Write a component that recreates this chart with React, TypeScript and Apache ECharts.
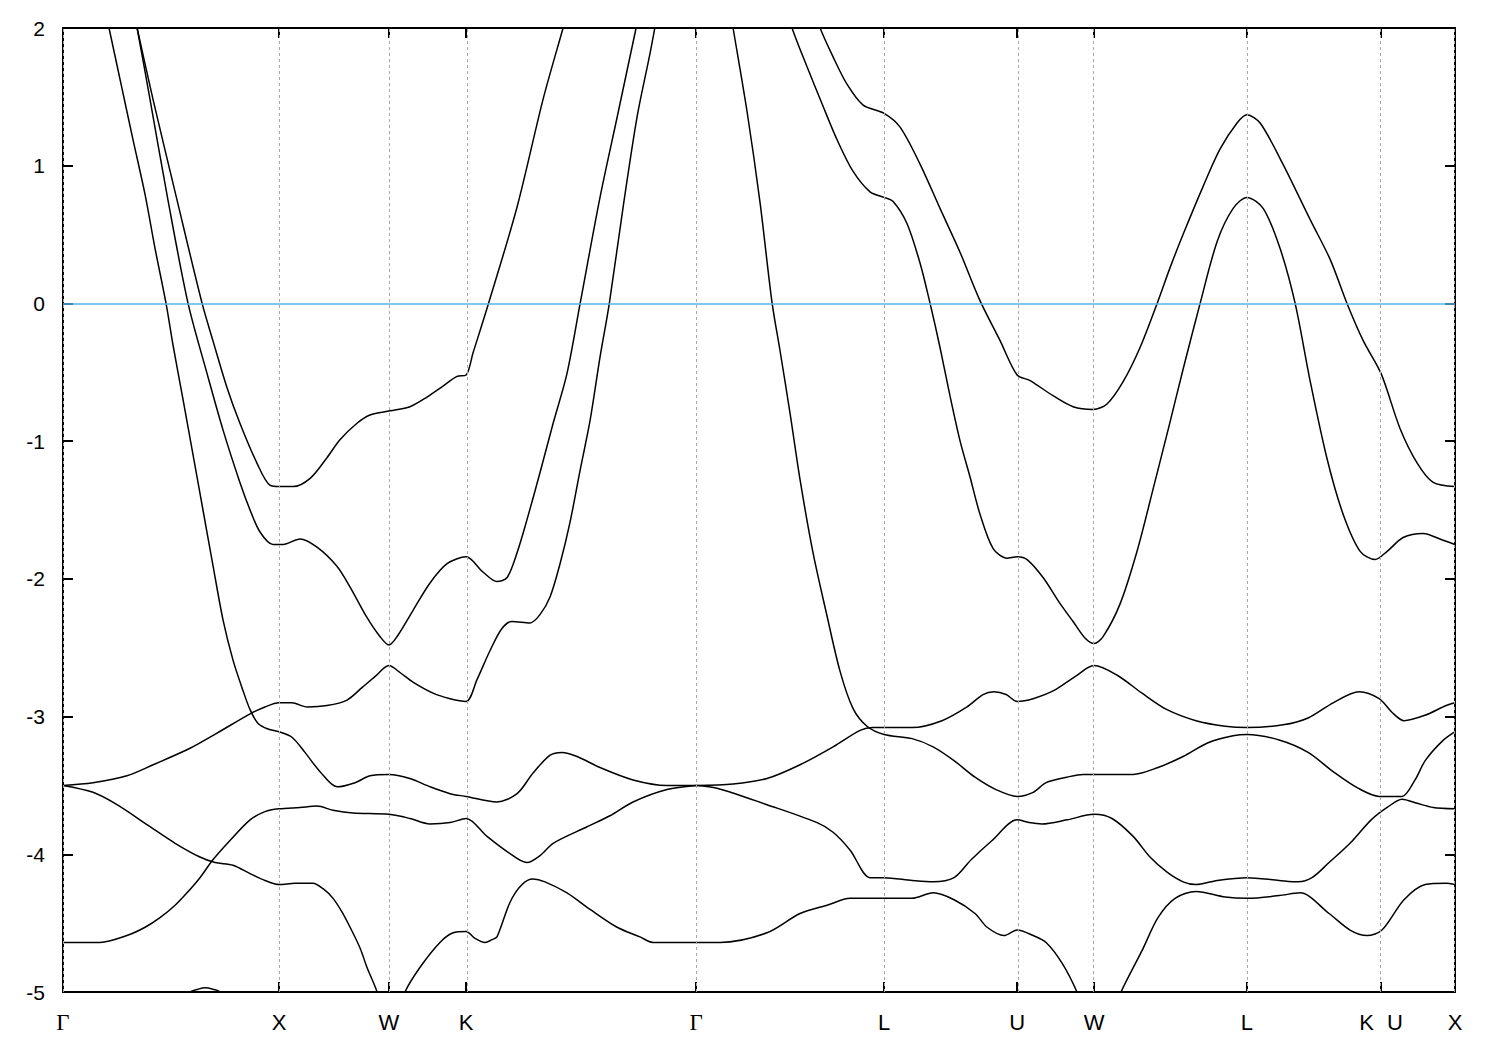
import React, { useEffect, useRef } from "react";
import * as echarts from "echarts";

// high-symmetry points along the k-path (path length, Γ–X = 1)
const tickPos = [0, 1, 1.509, 1.866, 2.931, 3.801, 4.417, 4.773, 5.481, 6.102, 6.444];
const tickLabels = ["Γ", "X", "W", "K", "Γ", "L", "U", "W", "L", "K|U", "X"];
const kMax = 6.444;
const eMin = -5;
const eMax = 2;
const eStep = 1;
const fermiLevel = 0;

// bands: [k, E (eV)]
const band1 = [[0.194, 2.13], [0.213, 2.0], [0.269, 1.59], [0.324, 1.19], [0.38, 0.79], [0.426, 0.4], [0.477, 0.0], [0.509, -0.3], [0.556, -0.7], [0.602, -1.1], [0.648, -1.5], [0.694, -1.9], [0.741, -2.3], [0.787, -2.59], [0.833, -2.81], [0.866, -2.95], [0.903, -3.05], [0.949, -3.09], [1.0, -3.11], [1.06, -3.15], [1.12, -3.26], [1.19, -3.4], [1.269, -3.51], [1.352, -3.48], [1.421, -3.43], [1.509, -3.42], [1.606, -3.45], [1.699, -3.51], [1.792, -3.56], [1.866, -3.58], [2.009, -3.62], [2.102, -3.56], [2.176, -3.41], [2.255, -3.28], [2.31, -3.26], [2.38, -3.29], [2.486, -3.37], [2.639, -3.46], [2.796, -3.5], [2.931, -3.5]];
const band2 = [[0.324, 2.13], [0.343, 2.0], [0.403, 1.48], [0.486, 0.75], [0.579, 0.0], [0.667, -0.51], [0.741, -0.92], [0.819, -1.3], [0.866, -1.5], [0.912, -1.66], [0.972, -1.75], [1.019, -1.75], [1.097, -1.71], [1.176, -1.77], [1.269, -1.91], [1.329, -2.06], [1.407, -2.28], [1.468, -2.42], [1.509, -2.48], [1.546, -2.42], [1.62, -2.23], [1.699, -2.03], [1.778, -1.89], [1.866, -1.84], [1.944, -1.95], [2.009, -2.02], [2.056, -1.99], [2.102, -1.81], [2.148, -1.57], [2.208, -1.23], [2.269, -0.87], [2.333, -0.51], [2.394, 0.0], [2.486, 0.77], [2.565, 1.35], [2.653, 2.0], [2.671, 2.13]];
const band3 = [[0.324, 2.13], [0.343, 2.0], [0.417, 1.48], [0.528, 0.75], [0.644, 0.0], [0.694, -0.27], [0.759, -0.61], [0.819, -0.87], [0.898, -1.16], [0.958, -1.32], [1.005, -1.33], [1.065, -1.33], [1.144, -1.27], [1.222, -1.12], [1.282, -0.99], [1.361, -0.87], [1.421, -0.81], [1.514, -0.78], [1.606, -0.75], [1.685, -0.68], [1.759, -0.6], [1.824, -0.53], [1.866, -0.52], [1.898, -0.36], [1.968, -0.01], [2.102, 0.7], [2.222, 1.48], [2.315, 2.0], [2.338, 2.13]];
const band4 = [[0, -3.5], [0.139, -3.48], [0.296, -3.43], [0.417, -3.35], [0.588, -3.23], [0.713, -3.12], [0.866, -2.98], [0.935, -2.93], [1.0, -2.9], [1.06, -2.9], [1.13, -2.93], [1.222, -2.92], [1.315, -2.88], [1.384, -2.79], [1.444, -2.71], [1.509, -2.63], [1.56, -2.68], [1.62, -2.75], [1.713, -2.83], [1.792, -2.87], [1.866, -2.89], [1.917, -2.73], [1.977, -2.52], [2.032, -2.36], [2.079, -2.31], [2.162, -2.32], [2.208, -2.26], [2.255, -2.13], [2.301, -1.89], [2.347, -1.59], [2.394, -1.21], [2.44, -0.85], [2.486, -0.39], [2.528, -0.01], [2.593, 0.7], [2.657, 1.35], [2.718, 1.82], [2.755, 2.13]];
const band5 = [[0, -3.5], [0.139, -3.55], [0.25, -3.64], [0.403, -3.8], [0.519, -3.92], [0.634, -4.02], [0.704, -4.06], [0.787, -4.08], [0.866, -4.14], [0.935, -4.19], [1.0, -4.22], [1.074, -4.21], [1.157, -4.21], [1.204, -4.25], [1.25, -4.32], [1.292, -4.42], [1.329, -4.53], [1.375, -4.68], [1.407, -4.82], [1.454, -5.0], [1.481, -5.17]];
const band6 = [[0, -4.64], [0.171, -4.64], [0.296, -4.59], [0.38, -4.53], [0.449, -4.46], [0.519, -4.37], [0.574, -4.28], [0.634, -4.17], [0.694, -4.04], [0.773, -3.9], [0.866, -3.75], [0.935, -3.69], [1.0, -3.67], [1.097, -3.66], [1.176, -3.65], [1.25, -3.68], [1.343, -3.7], [1.509, -3.71], [1.606, -3.74], [1.699, -3.78], [1.792, -3.77], [1.866, -3.74], [1.963, -3.87], [2.056, -3.98], [2.148, -4.06], [2.208, -4.01], [2.269, -3.92], [2.426, -3.8], [2.532, -3.72], [2.639, -3.62], [2.796, -3.53], [2.931, -3.5]];
const band7 = [[1.551, -5.17], [1.583, -5.0], [1.653, -4.82], [1.745, -4.64], [1.806, -4.57], [1.866, -4.56], [1.907, -4.61], [1.954, -4.64], [1.986, -4.62], [2.009, -4.6], [2.069, -4.35], [2.125, -4.22], [2.176, -4.18], [2.231, -4.2], [2.333, -4.28], [2.44, -4.4], [2.565, -4.53], [2.671, -4.6], [2.731, -4.64], [2.931, -4.64]];
const band8 = [[0.542, -5.09], [0.588, -5.0], [0.625, -4.98], [0.657, -4.97], [0.694, -4.98], [0.727, -5.0], [0.764, -5.09]];
const band9 = [[3.088, 2.13], [3.102, 2.0], [3.167, 1.39], [3.227, 0.73], [3.282, 0.01], [3.319, -0.34], [3.366, -0.8], [3.412, -1.28], [3.472, -1.81], [3.537, -2.27], [3.597, -2.67], [3.657, -2.94], [3.722, -3.07], [3.801, -3.13], [3.931, -3.16], [4.028, -3.22], [4.125, -3.32], [4.222, -3.44], [4.319, -3.53], [4.417, -3.58], [4.491, -3.55], [4.551, -3.48], [4.648, -3.44], [4.722, -3.42], [4.773, -3.42], [4.954, -3.42], [5.069, -3.37], [5.185, -3.29], [5.301, -3.19], [5.417, -3.14], [5.481, -3.13], [5.63, -3.17], [5.764, -3.26], [5.88, -3.4], [5.995, -3.52], [6.093, -3.58], [6.153, -3.58], [6.199, -3.58], [6.259, -3.46], [6.306, -3.32], [6.384, -3.18], [6.444, -3.11]];
const band10 = [[2.931, -3.5], [3.102, -3.49], [3.259, -3.45], [3.412, -3.35], [3.565, -3.22], [3.69, -3.1], [3.75, -3.08], [3.801, -3.08], [3.931, -3.08], [4.069, -3.03], [4.185, -2.93], [4.259, -2.84], [4.31, -2.82], [4.366, -2.84], [4.417, -2.89], [4.491, -2.87], [4.588, -2.81], [4.685, -2.71], [4.773, -2.63], [4.88, -2.7], [4.995, -2.83], [5.111, -2.95], [5.245, -3.03], [5.38, -3.07], [5.481, -3.08], [5.648, -3.06], [5.764, -3.01], [5.88, -2.9], [6.0, -2.82], [6.093, -2.87], [6.153, -2.97], [6.208, -3.03], [6.306, -2.99], [6.403, -2.92], [6.444, -2.9]];
const band11 = [[2.931, -3.5], [3.028, -3.52], [3.259, -3.64], [3.491, -3.77], [3.565, -3.84], [3.644, -3.97], [3.736, -4.17], [3.801, -4.17], [3.931, -4.19], [4.028, -4.2], [4.125, -4.17], [4.204, -4.04], [4.301, -3.9], [4.417, -3.75], [4.472, -3.77], [4.532, -3.78], [4.648, -3.75], [4.773, -3.71], [4.856, -3.74], [4.954, -3.87], [5.032, -4.02], [5.111, -4.13], [5.185, -4.2], [5.245, -4.22], [5.343, -4.19], [5.481, -4.17], [5.63, -4.19], [5.718, -4.2], [5.782, -4.17], [5.861, -4.06], [5.958, -3.92], [6.056, -3.75], [6.13, -3.66], [6.199, -3.6], [6.269, -3.63], [6.343, -3.66], [6.444, -3.67]];
const band12 = [[2.931, -4.64], [3.042, -4.64], [3.259, -4.57], [3.412, -4.43], [3.537, -4.37], [3.644, -4.32], [3.801, -4.32], [3.931, -4.32], [4.028, -4.28], [4.125, -4.33], [4.222, -4.43], [4.278, -4.53], [4.356, -4.59], [4.417, -4.55], [4.491, -4.59], [4.551, -4.64], [4.625, -4.79], [4.694, -5.0], [4.731, -5.17], [4.861, -5.17], [4.898, -5.0], [4.995, -4.7], [5.069, -4.46], [5.148, -4.32], [5.245, -4.27], [5.38, -4.31], [5.481, -4.32], [5.63, -4.3], [5.727, -4.28], [5.861, -4.43], [5.958, -4.55], [6.037, -4.59], [6.106, -4.55], [6.208, -4.33], [6.306, -4.22], [6.403, -4.21], [6.444, -4.22]];
const band13 = [[3.481, 2.13], [3.505, 2.0], [3.565, 1.79], [3.63, 1.59], [3.704, 1.44], [3.801, 1.38], [3.875, 1.28], [3.968, 1.01], [4.06, 0.69], [4.153, 0.37], [4.245, 0.02], [4.338, -0.27], [4.417, -0.52], [4.477, -0.56], [4.583, -0.67], [4.676, -0.75], [4.769, -0.77], [4.833, -0.73], [4.907, -0.57], [4.986, -0.32], [5.065, 0.0], [5.125, 0.26], [5.185, 0.5], [5.278, 0.85], [5.356, 1.12], [5.435, 1.31], [5.481, 1.37], [5.542, 1.31], [5.648, 1.01], [5.773, 0.61], [5.866, 0.32], [5.944, 0.0], [6.019, -0.27], [6.102, -0.51], [6.19, -0.91], [6.269, -1.16], [6.343, -1.3], [6.444, -1.33]];
const band14 = [[3.356, 2.13], [3.375, 2.0], [3.444, 1.72], [3.519, 1.43], [3.583, 1.19], [3.657, 0.96], [3.736, 0.81], [3.801, 0.77], [3.843, 0.74], [3.907, 0.58], [3.968, 0.29], [4.014, 0.0], [4.06, -0.32], [4.106, -0.67], [4.153, -1.0], [4.199, -1.26], [4.245, -1.53], [4.306, -1.78], [4.37, -1.85], [4.417, -1.84], [4.463, -1.86], [4.537, -1.99], [4.616, -2.18], [4.676, -2.31], [4.731, -2.43], [4.773, -2.47], [4.815, -2.42], [4.894, -2.18], [4.972, -1.8], [5.046, -1.35], [5.125, -0.86], [5.185, -0.48], [5.264, 0.0], [5.343, 0.45], [5.417, 0.69], [5.481, 0.77], [5.556, 0.69], [5.634, 0.4], [5.704, 0.0], [5.773, -0.56], [5.852, -1.13], [5.926, -1.53], [6.005, -1.8], [6.074, -1.86], [6.13, -1.8], [6.204, -1.7], [6.296, -1.67], [6.389, -1.72], [6.444, -1.75]];

const bands = [band1, band2, band3, band4, band5, band6, band7, band8, band9, band10, band11, band12, band13, band14];

const SANS = "'Liberation Sans', Arial, Helvetica, sans-serif";
const SERIF = "'Liberation Serif', 'Times New Roman', serif";

function labelFor(v: number): string {
  let best = 0;
  let bd = Infinity;
  tickPos.forEach((t, i) => {
    const d = Math.abs(t - v);
    if (d < bd) {
      bd = d;
      best = i;
    }
  });
  const s = tickLabels[best];
  if (s === "Γ") return "{g|Γ}";
  if (s === "K|U") return "{k|K}{u|U}";
  return s;
}

export default function App() {
  const ref = useRef<HTMLDivElement | null>(null);
  useEffect(() => {
    if (!ref.current) return;
    const chart = echarts.init(ref.current, undefined, { renderer: "svg" });
    const axisLineStyle = { color: "#000", width: 2 };
    const option: any = {
      animation: false,
      backgroundColor: "#ffffff",
      grid: { left: 63, top: 28, width: 1392, height: 964, outerBoundsMode: "none", containLabel: false },
      xAxis: [
        {
          type: "value",
          min: 0,
          max: kMax,
          position: "bottom",
          axisLine: { show: true, onZero: false, lineStyle: axisLineStyle },
          axisTick: { show: true, inside: true, length: 10, customValues: tickPos, lineStyle: axisLineStyle },
          axisLabel: {
            show: true,
            customValues: tickPos,
            margin: 19,
            color: "#000",
            fontSize: 22,
            fontFamily: SANS,
            formatter: (v: number) => labelFor(v),
            rich: {
              g: { fontFamily: SERIF, fontSize: 23, color: "#000" },
              k: { fontFamily: SANS, fontSize: 22, color: "#000", padding: [0, 13, 0, 0] },
              u: { fontFamily: SANS, fontSize: 22, color: "#000" },
            },
          },
          splitLine: { show: false },
        },
        {
          type: "value",
          min: 0,
          max: kMax,
          position: "top",
          axisLine: { show: true, onZero: false, lineStyle: axisLineStyle },
          axisTick: { show: true, inside: true, length: 10, customValues: tickPos, lineStyle: axisLineStyle },
          axisLabel: { show: false },
          splitLine: { show: false },
        },
      ],
      yAxis: [
        {
          type: "value",
          min: eMin,
          max: eMax,
          interval: eStep,
          position: "left",
          axisLine: { show: true, onZero: false, lineStyle: axisLineStyle },
          axisTick: { show: true, inside: true, length: 10, lineStyle: axisLineStyle },
          axisLabel: { show: true, margin: 18, color: "#000", fontSize: 21, fontFamily: SANS },
          splitLine: { show: false },
        },
        {
          type: "value",
          min: eMin,
          max: eMax,
          interval: eStep,
          position: "right",
          axisLine: { show: true, onZero: false, lineStyle: axisLineStyle },
          axisTick: { show: true, inside: true, length: 10, lineStyle: axisLineStyle },
          axisLabel: { show: false },
          splitLine: { show: false },
        },
      ],
      series: [
        {
          type: "line",
          data: [],
          silent: true,
          markLine: {
            silent: true,
            symbol: ["none", "none"],
            label: { show: false },
            data: [
              ...tickPos.map((t) => ({ xAxis: t, lineStyle: { color: "#a8a8a8", width: 1, type: [3, 3] } })),
              { yAxis: fermiLevel, lineStyle: { color: "#56B4E9", width: 1.5, type: "solid" } },
            ],
          },
        },
        ...bands.map((b) => ({
          type: "line",
          data: b,
          showSymbol: false,
          symbol: "none",
          smooth: 0.3,
          clip: true,
          silent: true,
          lineStyle: { color: "#000", width: 1.5 },
        })),
      ],
    };
    chart.setOption(option);
    return () => chart.dispose();
  }, []);
  return (
    <div
      ref={ref}
      style={{ position: "fixed", left: 0, top: 0, width: 1500, height: 1050, background: "#fff" }}
    />
  );
}
